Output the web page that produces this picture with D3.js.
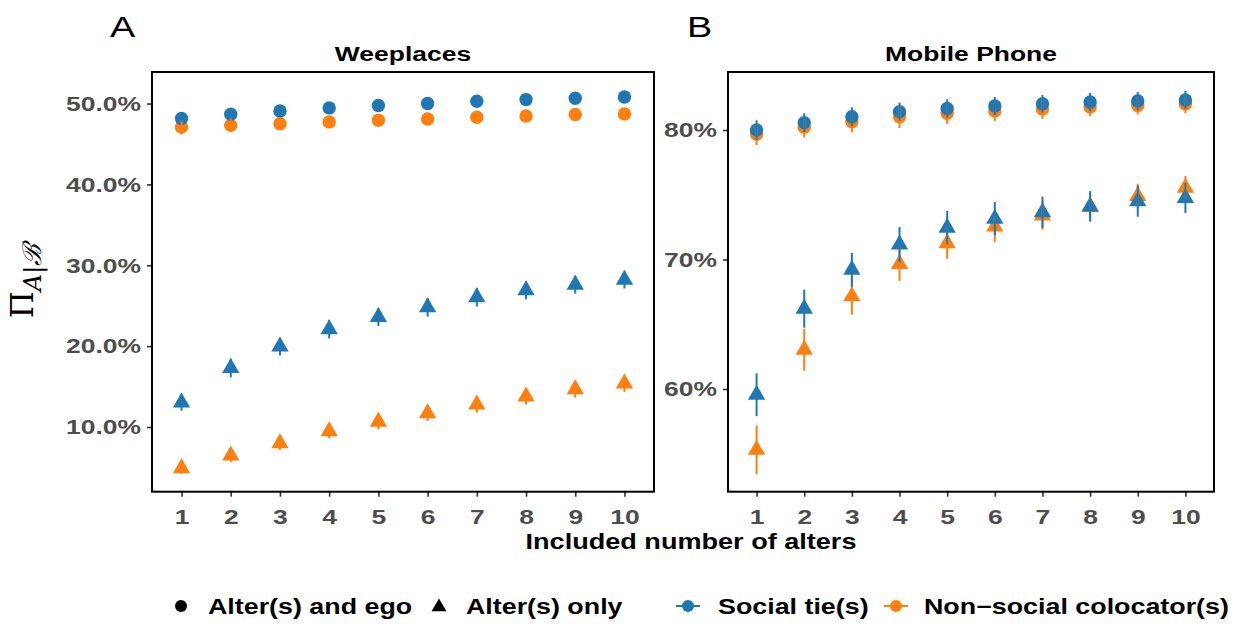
<!DOCTYPE html>
<html>
<head>
<meta charset="utf-8">
<script src="https://cdn.jsdelivr.net/npm/d3@7"></script>
<style>
  html, body { margin: 0; padding: 0; background: #fff; }
  svg { display: block; }
</style>
</head>
<body>
<svg id="chart" width="1244" height="626"></svg>
<script>
// ---- data ---------------------------------------------------------------
const alters = [1, 2, 3, 4, 5, 6, 7, 8, 9, 10];

// Weeplaces (percent)
const weeSocialEgo      = [48.15, 48.68, 49.09, 49.46, 49.75, 50.00, 50.28, 50.49, 50.65, 50.81];
const weeSocialEgoErr   = [0.40, 0.40, 0.40, 0.40, 0.40, 0.40, 0.40, 0.40, 0.40, 0.40];
const weeNonSocEgo      = [47.10, 47.30, 47.50, 47.73, 47.94, 48.10, 48.30, 48.47, 48.64, 48.72];
const weeNonSocEgoErr   = [0.90, 0.85, 0.60, 0.55, 0.50, 0.50, 0.50, 0.45, 0.45, 0.45];
const weeSocialOnly     = [13.04, 17.30, 19.95, 22.10, 23.60, 24.80, 26.05, 26.90, 27.60, 28.20];
const weeSocialOnlyErr  = [1.03, 1.15, 1.11, 1.15, 1.11, 1.15, 1.15, 1.11, 1.11, 1.07];
const weeNonSocOnly     = [4.90, 6.47, 7.99, 9.47, 10.66, 11.70, 12.77, 13.76, 14.67, 15.37];
const weeNonSocOnlyErr  = [0.70, 0.78, 0.82, 0.86, 0.95, 0.95, 0.99, 0.99, 1.03, 1.03];

// Mobile Phone (percent)
const mobSocialEgo      = [80.00, 80.57, 81.03, 81.42, 81.67, 81.85, 82.03, 82.16, 82.24, 82.32];
const mobSocialEgoErr   = [0.75, 0.72, 0.72, 0.70, 0.70, 0.70, 0.67, 0.70, 0.70, 0.70];
const mobNonSocEgo      = [79.67, 80.21, 80.64, 81.03, 81.29, 81.47, 81.62, 81.78, 81.90, 82.00];
const mobNonSocEgoErr   = [0.83, 0.80, 0.82, 0.87, 0.82, 0.77, 0.77, 0.72, 0.70, 0.70];
const mobSocialOnly     = [59.56, 66.20, 69.20, 71.15, 72.45, 73.15, 73.65, 74.10, 74.50, 74.75];
const mobSocialOnlyErr  = [1.65, 1.47, 1.30, 1.35, 1.30, 1.28, 1.20, 1.18, 1.20, 1.16];
const mobNonSocOnly     = [55.30, 63.04, 67.16, 69.65, 71.25, 72.55, 73.40, 74.05, 74.90, 75.55];
const mobNonSocOnlyErr  = [1.88, 1.62, 1.42, 1.30, 1.20, 1.19, 1.10, 1.05, 0.95, 0.90];

const weeTicks = [10, 20, 30, 40, 50];
const mobTicks = [60, 70, 80];

const panelTitles = ["Weeplaces", "Mobile Phone"];
const panelTags = ["A", "B"];
const xTitle = "Included number of alters";
const shapeLabels = ["Alter(s) and ego", "Alter(s) only"];
const groupLabels = ["Social tie(s)", "Non\u2212social colocator(s)"];

// ---- styling --------------------------------------------------------------
const BLUE = "#1f77b4", ORANGE = "#ff7f0e";
const FONT = "'Liberation Sans', Arial, Helvetica, sans-serif";
const SX = 1.26;              // horizontal stretch of the lettering
const TICK_GREY = "#4d4d4d";

const svg = d3.select("#chart");
svg.append("rect").attr("width", 1244).attr("height", 626).attr("fill", "#fff");

function label(g, x, y, txt, opts = {}) {
  return g.append("text")
    .attr("transform", `translate(${x},${y}) scale(${SX},1)`)
    .attr("text-anchor", opts.anchor || "start")
    .attr("font-family", FONT)
    .attr("font-size", opts.size || 21)
    .attr("font-weight", opts.weight || "bold")
    .attr("fill", opts.fill || "#000")
    .text(txt);
}

const panels = [
  {
    left: 152, right: 654, top: 72, bottom: 491.7,
    yDomain: [2.0, 53.9], ticks: weeTicks, fmt: d => d.toFixed(1) + "%",
    series: [
      { v: weeNonSocEgo,  e: weeNonSocEgoErr,  c: ORANGE, shape: "circle" },
      { v: weeSocialEgo,  e: weeSocialEgoErr,  c: BLUE,   shape: "circle" },
      { v: weeNonSocOnly, e: weeNonSocOnlyErr, c: ORANGE, shape: "triangle" },
      { v: weeSocialOnly, e: weeSocialOnlyErr, c: BLUE,   shape: "triangle" }
    ],
    title: panelTitles[0], tag: panelTags[0], tagX: 110
  },
  {
    left: 728, right: 1214, top: 72, bottom: 491.7,
    yDomain: [52.07, 84.48], ticks: mobTicks, fmt: d => d + "%",
    series: [
      { v: mobNonSocEgo,  e: mobNonSocEgoErr,  c: ORANGE, shape: "circle" },
      { v: mobSocialEgo,  e: mobSocialEgoErr,  c: BLUE,   shape: "circle" },
      { v: mobNonSocOnly, e: mobNonSocOnlyErr, c: ORANGE, shape: "triangle" },
      { v: mobSocialOnly, e: mobSocialOnlyErr, c: BLUE,   shape: "triangle" }
    ],
    title: panelTitles[1], tag: panelTags[1], tagX: 687
  }
];

const triangle = d3.symbol().type(d3.symbolTriangle).size(130);

panels.forEach(p => {
  const x = d3.scaleLinear().domain([0.4, 10.6]).range([p.left, p.right]);
  const y = d3.scaleLinear().domain(p.yDomain).range([p.bottom, p.top]);
  const g = svg.append("g");

  // axes
  const yAxis = g.append("g").attr("transform", `translate(${p.left},0)`)
    .call(d3.axisLeft(y).tickValues(p.ticks).tickFormat(p.fmt).tickSize(5).tickPadding(0));
  const xAxis = g.append("g").attr("transform", `translate(0,${p.bottom})`)
    .call(d3.axisBottom(x).tickValues(alters).tickFormat(d3.format("d")).tickSize(5).tickPadding(0));
  [yAxis, xAxis].forEach(a => {
    a.select(".domain").remove();
    a.selectAll(".tick line").attr("stroke", "#333").attr("stroke-width", 1.6);
    a.selectAll(".tick text")
      .attr("font-family", FONT).attr("font-size", 21).attr("font-weight", "bold")
      .attr("fill", TICK_GREY);
  });
  yAxis.selectAll(".tick text").attr("x", 0)
    .attr("transform", `translate(-11,0) scale(${SX},1)`);
  xAxis.selectAll(".tick text").attr("y", 0).attr("dy", null)
    .attr("transform", `translate(0,32) scale(${SX},1)`);

  // points: orange under blue
  p.series.forEach(s => {
    const pts = g.append("g").attr("fill", s.c);
    if (s.shape === "circle") {
      pts.selectAll("circle").data(alters).join("circle")
        .attr("cx", d => x(d)).attr("cy", (d, i) => y(s.v[i])).attr("r", 6.7);
    } else {
      pts.selectAll("path").data(alters).join("path")
        .attr("d", triangle)
        .attr("transform", (d, i) => `translate(${x(d)},${y(s.v[i])})`);
    }
  });

  // error bars drawn over the points
  const barOrder = [p.series[0], p.series[2], p.series[1], p.series[3]];
  barOrder.forEach(s => {
    g.append("g").attr("stroke", s.c).attr("stroke-width", 2)
      .selectAll("line").data(alters).join("line")
      .attr("x1", d => x(d)).attr("x2", d => x(d))
      .attr("y1", (d, i) => y(s.v[i] - s.e[i]))
      .attr("y2", (d, i) => y(s.v[i] + s.e[i]));
  });

  // panel border
  g.append("rect")
    .attr("x", p.left).attr("y", p.top)
    .attr("width", p.right - p.left).attr("height", p.bottom - p.top)
    .attr("fill", "none").attr("stroke", "#000").attr("stroke-width", 2);

  // title and tag
  label(svg, (p.left + p.right) / 2, 61, p.title, { anchor: "middle", size: 21 });
  label(svg, p.tagX, 37, p.tag, { size: 30, weight: "normal" });
});

// shared x-axis title
label(svg, 691, 549, xTitle, { anchor: "middle", size: 21.5 });

// y-axis title: Pi with subscript A|B
const yt = svg.append("text")
  .attr("transform", "translate(33,281) rotate(-90)")
  .attr("text-anchor", "middle")
  .attr("font-family", "'DejaVu Serif', 'Liberation Serif', serif")
  .attr("fill", "#000");
yt.append("tspan").attr("font-size", 31).text("\u03A0");
yt.append("tspan").attr("font-size", 24).attr("font-style", "italic").attr("dy", 8).text("A");
yt.append("tspan").attr("font-size", 24).text("|");
yt.append("tspan").attr("font-size", 26).attr("font-style", "italic").text("\u212C");

// legend
const lg = svg.append("g");
const LY = 606;
lg.append("circle").attr("cx", 181).attr("cy", LY).attr("r", 6).attr("fill", "#000");
label(lg, 208, LY + 8, shapeLabels[0], { size: 21.3 });
lg.append("path").attr("d", d3.symbol().type(d3.symbolTriangle).size(96))
  .attr("transform", `translate(439,${LY + 1})`).attr("fill", "#000");
label(lg, 466, LY + 8, shapeLabels[1], { size: 21.3 });

[[688, BLUE, 718, groupLabels[0]], [896, ORANGE, 924, groupLabels[1]]].forEach(([cx, col, tx, txt]) => {
  lg.append("line").attr("x1", cx - 12).attr("x2", cx + 12).attr("y1", LY).attr("y2", LY)
    .attr("stroke", col).attr("stroke-width", 2);
  lg.append("circle").attr("cx", cx).attr("cy", LY).attr("r", 6).attr("fill", col);
  label(lg, tx, LY + 8, txt, { size: 21.3 });
});
</script>
</body>
</html>
